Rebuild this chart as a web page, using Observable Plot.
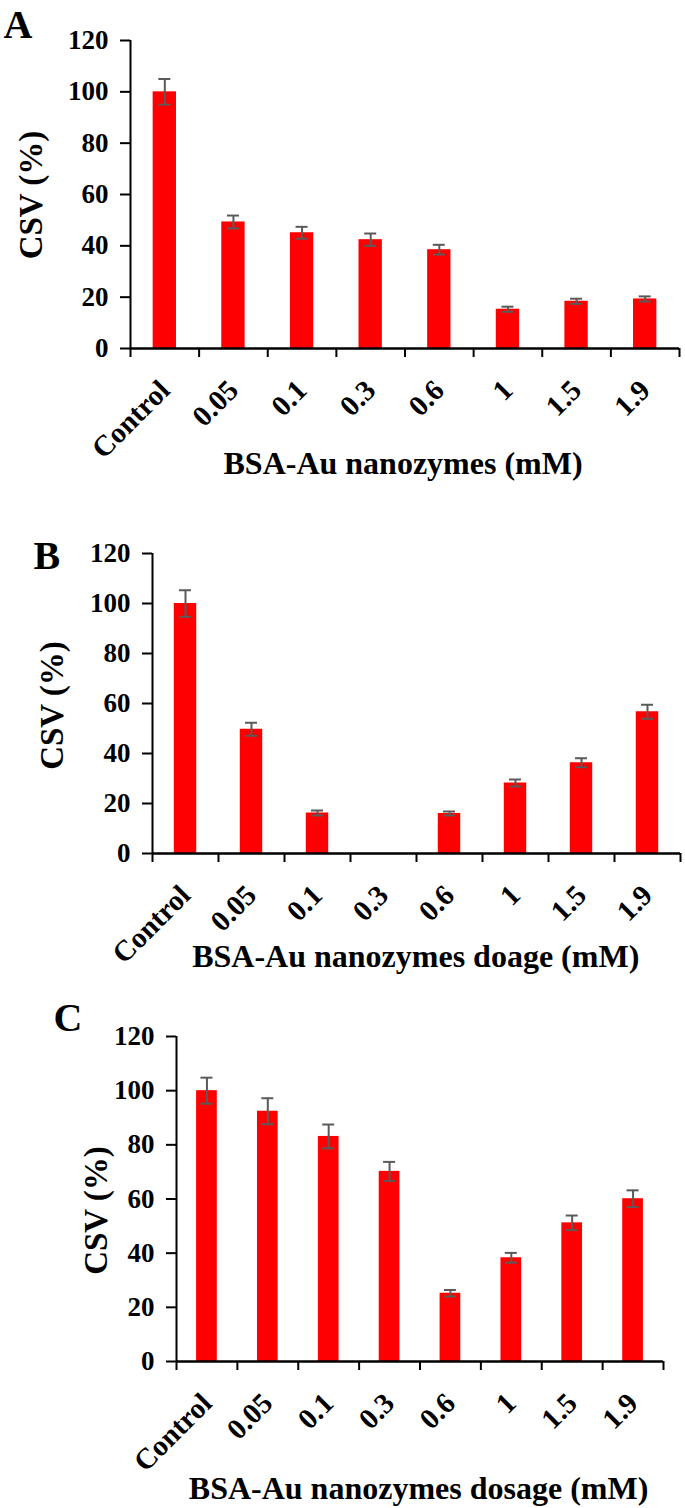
<!DOCTYPE html>
<html><head><meta charset="utf-8">
<script src="https://cdn.jsdelivr.net/npm/d3@7"></script>
<script src="https://cdn.jsdelivr.net/npm/@observablehq/plot@0.6"></script>
<style>
html,body{margin:0;padding:0;background:#fff;}
#chart svg{display:block;}
</style></head><body><div id="chart"></div>
<script>
// ---- data ----
const categories = ["Control", "0.05", "0.1", "0.3", "0.6", "1", "1.5", "1.9"];
const csvA = [100, 49.3, 45.1, 42.4, 38.5, 15.3, 18.4, 19.3];
const errA = [5.0, 2.5, 2.3, 2.4, 1.9, 1.0, 1.0, 1.0];
const csvB = [100, 49.7, 16.2, 0, 16.0, 28.2, 36.3, 56.7];
const errB = [5.3, 2.6, 1.0, 0, 0.8, 1.4, 1.8, 2.8];
const csvC = [100, 92.4, 83.1, 70.2, 25.2, 38.3, 51.2, 60.1];
const errC = [4.8, 4.8, 4.4, 3.5, 1.2, 1.8, 2.7, 3.1];
const yTicks = [0, 20, 40, 60, 80, 100, 120];
const panelLetters = ["A", "B", "C"];
const yTitle = "CSV (%)";
const xTitles = ["BSA-Au nanozymes (mM)", "BSA-Au nanozymes doage (mM)", "BSA-Au nanozymes dosage (mM)"];

// ---- layout ----
const FONT = '"Liberation Serif","Times New Roman",serif';
const panels = [
  {letter: panelLetters[0], values: csvA, errors: errA, xTitle: xTitles[0], height: 495,
   marginTop: 40, marginBottom: 147, marginLeft: 130, marginRight: 6,
   letterPos: [3, 37], yTitlePos: [30.5, 194.5], xTitlePos: [223, 473]},
  {letter: panelLetters[1], values: csvB, errors: errB, xTitle: xTitles[1], height: 500,
   marginTop: 58, marginBottom: 142, marginLeft: 152, marginRight: 5,
   letterPos: [33, 73], yTitlePos: [52, 210], xTitlePos: [191.7, 471.7]},
  {letter: panelLetters[2], values: csvC, errors: errC, xTitle: xTitles[2], height: 513,
   marginTop: 41, marginBottom: 147, marginLeft: 176, marginRight: 22,
   letterPos: [53, 35], yTitlePos: [96, 215], xTitlePos: [188.3, 503]}
];

function panel(p) {
  const rows = categories.map((c, i) => ({cat: c, i, v: p.values[i], e: p.errors[i]}));
  const withErr = rows.filter(d => d.e > 0);
  const at = (x, y) => ({frameAnchor: "top-left", dx: x - p.marginLeft, dy: y - p.marginTop});
  const errStyle = {stroke: "#5a5a5a", strokeWidth: 2};
  return Plot.plot({
    width: 685, height: p.height,
    marginTop: p.marginTop, marginBottom: p.marginBottom,
    marginLeft: p.marginLeft, marginRight: p.marginRight,
    style: {fontFamily: FONT, fontWeight: "bold", color: "#000", background: "#fff", overflow: "visible"},
    x: {domain: [0, categories.length]},
    y: {domain: [0, 120]},
    marks: [
      Plot.rectY(rows, {x1: d => d.i + 0.33, x2: d => d.i + 0.67, y: "v", fill: "#ff0000"}),
      Plot.ruleX(withErr, {x: d => d.i + 0.5, y1: d => d.v - d.e, y2: d => d.v + d.e, ...errStyle}),
      Plot.ruleY(withErr, {x1: d => d.i + 0.5, x2: d => d.i + 0.5, y: d => d.v + d.e, insetLeft: -6, insetRight: -6, ...errStyle}),
      Plot.ruleY(withErr, {x1: d => d.i + 0.5, x2: d => d.i + 0.5, y: d => d.v - d.e, insetLeft: -6, insetRight: -6, ...errStyle}),
      Plot.ruleY([0], {stroke: "#000", strokeWidth: 2.5}),
      Plot.ruleX([0], {stroke: "#000", strokeWidth: 2}),
      Plot.axisY({ticks: yTicks, tickSize: 10, tickPadding: 12, fontSize: 27, fontWeight: "bold", label: null, strokeWidth: 2}),
      Plot.axisX({ticks: d3.range(categories.length + 1), tickSize: 9, tickFormat: () => "", label: null, strokeWidth: 2}),
      Plot.text(rows, {x: d => d.i + 0.5, y: () => 0, text: "cat", rotate: -45, textAnchor: "end", lineAnchor: "middle",
        dx: 0, dy: 37, fontSize: 29, fontWeight: "bold"}),
      Plot.text([p.letter], {...at(...p.letterPos), text: d => d, textAnchor: "start", lineAnchor: "bottom", fontSize: 40, fontWeight: "bold"}),
      Plot.text([yTitle], {...at(...p.yTitlePos), text: d => d, rotate: -90, textAnchor: "middle", lineAnchor: "middle", fontSize: 33, fontWeight: "bold"}),
      Plot.text([p.xTitle], {...at(...p.xTitlePos), text: d => d, textAnchor: "start", lineAnchor: "bottom", fontSize: 32, fontWeight: "bold"})
    ]
  });
}

const root = document.getElementById("chart");
for (const p of panels) root.appendChild(panel(p));
</script>
</body></html>
